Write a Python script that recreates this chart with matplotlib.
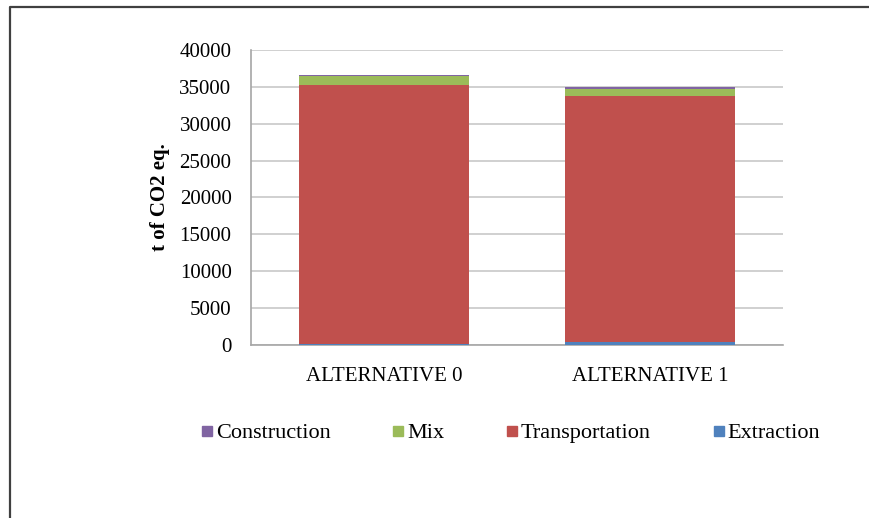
import numpy as np
from matplotlib import pyplot as plt
from matplotlib.lines import Line2D

categories = ["ALTERNATIVE 0", "ALTERNATIVE 1"]
extraction = [100, 400]
transportation = [35150, 33360]
mix = [1200, 1000]
construction = [160, 260]

series = [("Extraction", extraction, "#4F81BD"),
          ("Transportation", transportation, "#C0504D"),
          ("Mix", mix, "#9BBB59"),
          ("Construction", construction, "#8064A2")]

plt.rcParams['font.family'] = ['Liberation Serif', 'DejaVu Serif']

fig = plt.figure(figsize=(8.7, 5.18), dpi=100)
ax = fig.add_axes([0.2885, 0.334, 0.6115, 0.5695])

x = np.arange(len(categories))
bottom = np.zeros(len(categories))
for name, vals, col in series:
    ax.bar(x, vals, width=0.64, bottom=bottom, color=col, label=name, zorder=3)
    bottom += np.array(vals)

ax.set_xlim(-0.5, 1.5)
ax.set_ylim(0, 40000)
ax.set_yticks(np.arange(0, 40001, 5000))
ax.set_xticks(x)
ax.set_xticklabels(categories, fontsize=15)
ax.tick_params(axis='y', labelsize=15, length=0, pad=14)
ax.tick_params(axis='x', length=0, pad=16)
ax.yaxis.grid(True, color="#C8C8C8", linewidth=1.2, zorder=0)
for s in ["top", "right"]:
    ax.spines[s].set_visible(False)
for s in ["left", "bottom"]:
    ax.spines[s].set_color("#A6A6A6")
    ax.spines[s].set_linewidth(1.2)
ax.set_ylabel("t of CO2 eq.", fontsize=15, fontweight="bold", labelpad=7)

order = ["Construction", "Mix", "Transportation", "Extraction"]
colors = dict((n, c) for n, _, c in series)
leg_handles = [Line2D([], [], marker='s', linestyle='', markersize=7, color=colors[n])
               for n in order]
fig.legend(leg_handles, order, loc='center', bbox_to_anchor=(0.587, 0.164), ncol=4,
           frameon=False, fontsize=16, handlelength=0.5, handletextpad=0.15,
           columnspacing=2.8)

# outer frame (left and top edges only)
fig.add_artist(Line2D([10/870, 10/870, 1.0], [0.0, 1-7/518, 1-7/518],
                      transform=fig.transFigure, color="#404040", linewidth=1.6))

plt.savefig("out.png", dpi=100)
